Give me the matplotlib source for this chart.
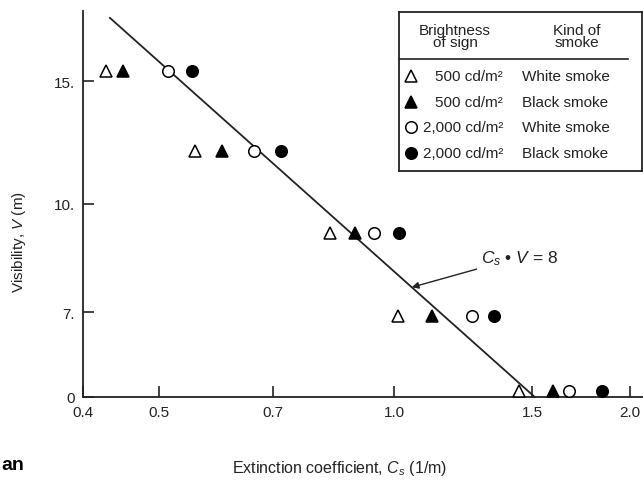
import matplotlib.pyplot as plt

plt.rcParams['font.family'] = ['Liberation Sans', 'DejaVu Sans']
plt.rcParams['mathtext.fontset'] = 'custom'
plt.rcParams['mathtext.rm'] = 'Liberation Sans'
plt.rcParams['mathtext.it'] = 'Liberation Sans:italic'

TEXT = '#222222'

# visibility rows (m)
VIS = [15.5, 11.9, 9.1, 6.9, 5.4]

# extinction coefficient (1/m) for each series, one value per row
CS_500_WHITE = [0.428, 0.557, 0.827, 1.012, 1.442]
CS_500_BLACK = [0.450, 0.603, 0.890, 1.119, 1.597]
CS_2000_WHITE = [0.514, 0.661, 0.943, 1.257, 1.674]
CS_2000_BLACK = [0.552, 0.716, 1.015, 1.340, 1.843]

BRIGHTNESS = ['500 cd/m²', '500 cd/m²', '2,000 cd/m²', '2,000 cd/m²']
SMOKE = ['White smoke', 'Black smoke', 'White smoke', 'Black smoke']

X_TICKS = [0.4, 0.5, 0.7, 1.0, 1.5, 2.0]
X_LABELS = ['0.4', '0.5', '0.7', '1.0', '1.5', '2.0']
Y_MIN, Y_MAX = 5.29, 18.9
Y_TICKS = [Y_MIN, 7, 10, 15]
Y_LABELS = ['0', '7.', '10.', '15.']

CONST = 8  # Cs * V = 8
LINE_CS = [0.433, CONST / Y_MIN]

series = [
    (CS_500_WHITE, '^', 'white'),
    (CS_500_BLACK, '^', 'black'),
    (CS_2000_WHITE, 'o', 'white'),
    (CS_2000_BLACK, 'o', 'black'),
]

fig = plt.figure(figsize=(6.43, 4.81), dpi=100)
ax = fig.add_axes([83 / 643, 1 - 398 / 481, 560 / 643, 386 / 481])

ax.set_xscale('log')
ax.set_yscale('log')
ax.set_xlim(0.4, 2.08)
ax.set_ylim(Y_MIN, Y_MAX)

for cs, mk, face in series:
    ax.plot(cs, VIS, linestyle='none', marker=mk, markersize=8.3,
            markerfacecolor=face, markeredgecolor='black',
            markeredgewidth=1.1, zorder=3)

ax.plot(LINE_CS, [CONST / c for c in LINE_CS], color='#222', linewidth=1.3,
        zorder=2, clip_on=False)

tip = 1.053
ax.annotate(r'$C_s$ • $V$ = 8', xy=(tip, CONST / tip), xytext=(1.29, 8.39),
            fontsize=12.5, color=TEXT, va='center', ha='left',
            arrowprops=dict(arrowstyle='-|>', color='#222', lw=1.0,
                            mutation_scale=10, shrinkA=1, shrinkB=0))

ax.minorticks_off()
ax.set_xticks(X_TICKS, X_LABELS)
ax.set_yticks(Y_TICKS, Y_LABELS)
ax.tick_params(direction='in', length=8, width=1.2, colors='#222',
               labelcolor=TEXT, labelsize=11)
ax.tick_params(axis='x', pad=6)
ax.tick_params(axis='y', pad=6)
for side in ['top', 'right']:
    ax.spines[side].set_visible(False)
for side in ['left', 'bottom']:
    ax.spines[side].set_linewidth(1.3)
    ax.spines[side].set_color('#222')

ax.set_xlabel(r'Extinction coefficient, $C_s$ (1/m)', fontsize=11.5,
              color=TEXT)
ax.set_ylabel(r'Visibility, $V$ (m)', fontsize=11, color=TEXT)
ax.xaxis.set_label_coords((340 - 83) / 560, (398 - 459) / 386)
ax.yaxis.set_label_coords((28 - 83) / 560, (398 - 242) / 386)

# table-like legend box
lax = fig.add_axes([399 / 643, 1 - 172 / 481, 243 / 643, 159 / 481])
lax.set_xlim(399, 642)
lax.set_ylim(172, 13)
lax.set_xticks([])
lax.set_yticks([])
for s in lax.spines.values():
    s.set_linewidth(1.3)
    s.set_color('#222')

lax.text(455, 37, 'Brightness\nof sign', ha='center', va='center',
         fontsize=11, color=TEXT, linespacing=0.9)
lax.text(577, 37, 'Kind of\nsmoke', ha='center', va='center',
         fontsize=11, color=TEXT, linespacing=0.9)
lax.plot([399, 628], [60, 60], color='#222', linewidth=1.2)

row_y = [77, 103, 128, 154]
for (cs, mk, face), b, k, y in zip(series, BRIGHTNESS, SMOKE, row_y):
    lax.plot([411], [y], marker=mk, markersize=8.3, markerfacecolor=face,
             markeredgecolor='black', markeredgewidth=1.1)
    lax.text(503, y, b, ha='right', va='center', fontsize=11, color=TEXT)
    lax.text(522, y, k, ha='left', va='center', fontsize=11, color=TEXT)

fig.text(1 / 643, 1 - 466 / 481, 'an', fontsize=14, fontweight='bold',
         color='black', va='center', ha='left')

fig.savefig('out.png', dpi=100)
